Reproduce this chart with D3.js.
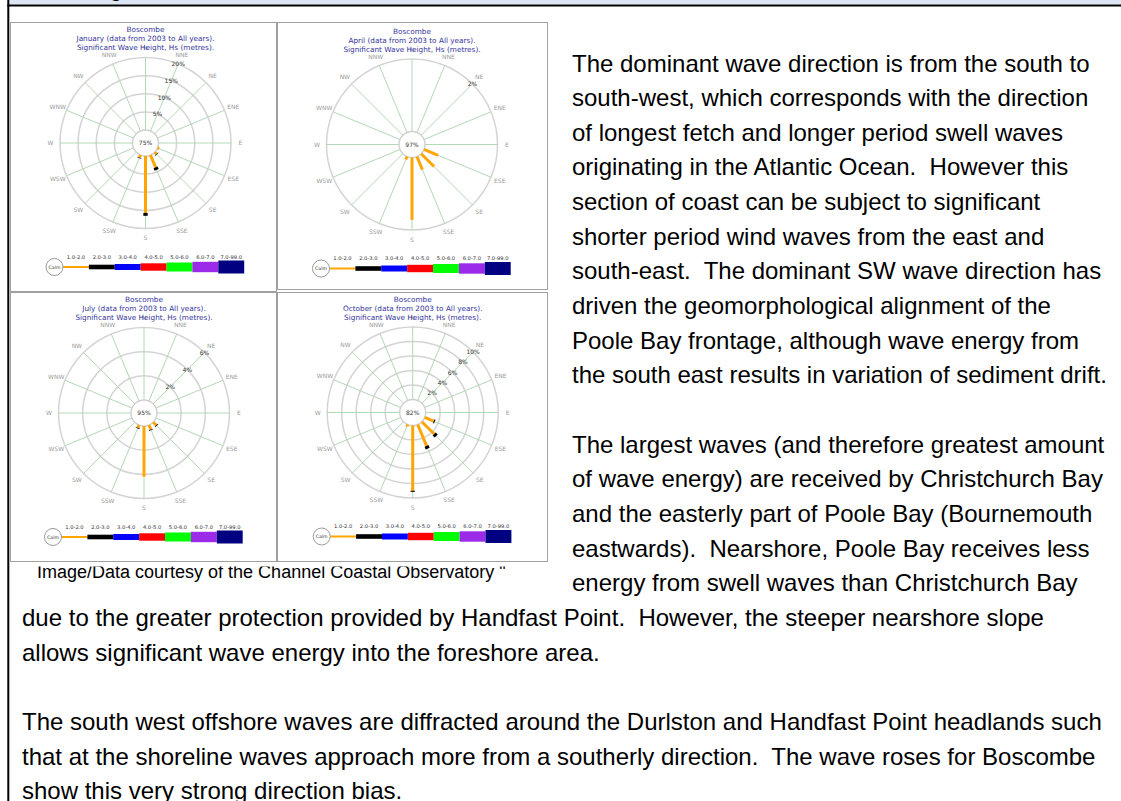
<!DOCTYPE html>
<html>
<head>
<meta charset="utf-8">
<script src="https://cdn.jsdelivr.net/npm/d3@7"></script>
<style>
  body { margin: 0; background: #fff; }
  svg { display: block; }
</style>
</head>
<body>
<svg id="page" width="1121" height="801"></svg>
<script>
// compass points, clockwise from north
const directions = ["N", "NNE", "NE", "ENE", "E", "ESE", "SE", "SSE", "S", "SSW", "SW", "WSW", "W", "WNW", "NW", "NNW"];

// wave height bands (metres)
const bandLabels = ["1.0-2.0", "2.0-3.0", "3.0-4.0", "4.0-5.0", "5.0-6.0", "6.0-7.0", "7.0-99.0"];
const bandColors = ["#ffa500", "#000000", "#0000ff", "#ff0000", "#00ff00", "#9b2be8", "#000080"];

const months = ["January", "April", "July", "October"];
const calmLabels = ["75%", "97%", "95%", "82%"];
const ringTicks = [[5, 10, 15, 20], [2], [2, 4, 6], [2, 4, 6, 8, 10]];
const ringLabelDir = ["NNE", "NE", "NE", "NE"];

// % of records per direction, [1-2m, 2-3m]
const janBars = [
  { dir: "ESE", v: [0.5, 0] },
  { dir: "SE", v: [0.7, 0.15] },
  { dir: "SSE", v: [3.7, 0.75] },
  { dir: "S", v: [15.7, 0.8] },
  { dir: "SSW", v: [0.8, 0.15] }
];
const aprBars = [
  { dir: "ESE", v: [0.42, 0] },
  { dir: "SE", v: [0.5, 0] },
  { dir: "SSE", v: [0.39, 0] },
  { dir: "S", v: [1.72, 0] },
  { dir: "SSW", v: [0.09, 0] }
];
const julBars = [
  { dir: "SE", v: [0.36, 0.06] },
  { dir: "SSE", v: [0.4, 0.06] },
  { dir: "S", v: [4.2, 0] },
  { dir: "SSW", v: [0.25, 0.05] }
];
const octBars = [
  { dir: "ESE", v: [1.35, 0.15] },
  { dir: "SE", v: [2.4, 0.4] },
  { dir: "SSE", v: [3.2, 0.4] },
  { dir: "S", v: [9.0, 0.15] },
  { dir: "SSW", v: [0.3, 0] }
];
const monthBars = [janBars, aprBars, julBars, octBars];

const rightLines = [
  "The dominant wave direction is from the south to",
  "south-west, which corresponds with the direction",
  "of longest fetch and longer period swell waves",
  "originating in the Atlantic Ocean.  However this",
  "section of coast can be subject to significant",
  "shorter period wind waves from the east and",
  "south-east.  The dominant SW wave direction has",
  "driven the geomorphological alignment of the",
  "Poole Bay frontage, although wave energy from",
  "the south east results in variation of sediment drift.",
  "",
  "The largest waves (and therefore greatest amount",
  "of wave energy) are received by Christchurch Bay",
  "and the easterly part of Poole Bay (Bournemouth",
  "eastwards).  Nearshore, Poole Bay receives less",
  "energy from swell waves than Christchurch Bay"
];
const fullLines = [
  "due to the greater protection provided by Handfast Point.  However, the steeper nearshore slope",
  "allows significant wave energy into the foreshore area.",
  "",
  "The south west offshore waves are diffracted around the Durlston and Handfast Point headlands such",
  "that at the shoreline waves approach more from a southerly direction.  The wave roses for Boscombe",
  "show this very strong direction bias."
];
const caption = "Image/Data courtesy of the Channel Coastal Observatory \"";

const svg = d3.select("#page");
const bodyFont = "'Liberation Sans', Arial, sans-serif";
const chartFont = "'DejaVu Sans', Verdana, sans-serif";

// page frame
svg.append("rect").attr("x", 9).attr("y", 0).attr("width", 1112).attr("height", 4.5).attr("fill", "#dce6f4");
svg.append("text").attr("x", 110).attr("y", -3).attr("font-family", bodyFont).attr("font-size", 20)
  .attr("font-weight", "bold").attr("fill", "#000").text("g");
svg.append("rect").attr("x", 7.3).attr("y", 4.5).attr("width", 1113.7).attr("height", 2).attr("fill", "#000");
svg.append("rect").attr("x", 7.3).attr("y", 0).attr("width", 2).attr("height", 801).attr("fill", "#000");

// body text
const lineH = 34.65, firstBase = 71.5;
svg.append("g").selectAll("text").data(rightLines).join("text")
  .attr("x", 572).attr("y", (d, i) => firstBase + i * lineH)
  .attr("font-family", bodyFont).attr("font-size", 24).attr("fill", "#000")
  .style("white-space", "pre").text(d => d);
svg.append("g").selectAll("text").data(fullLines).join("text")
  .attr("x", 22).attr("y", (d, i) => firstBase + (i + rightLines.length) * lineH)
  .attr("font-family", bodyFont).attr("font-size", 24).attr("fill", "#000")
  .style("white-space", "pre").text(d => d);

svg.append("text").attr("x", 37).attr("y", 577.5).attr("font-family", bodyFont)
  .attr("font-size", 18).attr("fill", "#000").text(caption);
// image container hides top of caption
svg.append("rect").attr("x", 10).attr("y", 8).attr("width", 548).attr("height", 558.5).attr("fill", "#fff");

const panels = [
  { x: 10, y: 22, w: 267, h: 270, cx: 145.5, cy: 143 },
  { x: 277, y: 22, w: 271, h: 268, cx: 412, cy: 144.5 },
  { x: 10, y: 292, w: 267, h: 270, cx: 144, cy: 413 },
  { x: 277, y: 292, w: 271, h: 270, cx: 412.7, cy: 412.5 }
];

const calmR = 13, outerR = 85.5, labelR = 95;
const bandWidths = [3, 4.3, 6, 7.5, 9, 10.5, 13];
const legendH = [2, 4.6, 6, 7.4, 9, 10.4, 13];
const rad = d => directions.indexOf(d) * Math.PI / 8;
const px = (r, a) => r * Math.sin(a);
const py = (r, a) => -r * Math.cos(a);

panels.forEach((p, k) => {
  svg.append("rect").attr("x", p.x + 0.5).attr("y", p.y + 0.5).attr("width", p.w - 1).attr("height", p.h - 1)
    .attr("fill", "#fff").attr("stroke", "#a0a0a0").attr("stroke-width", 1);

  const g = svg.append("g").attr("transform", `translate(${p.cx},${p.cy})`);
  const ticks = ringTicks[k];
  const r = d3.scaleLinear().domain([0, d3.max(ticks)]).range([calmR, outerR]);

  // rings
  g.selectAll("circle.ring").data(ticks).join("circle").attr("class", "ring")
    .attr("r", d => r(d)).attr("fill", "none").attr("stroke", "#d4d4d4").attr("stroke-width", 1.5);

  // spokes
  g.selectAll("line.spoke").data(directions).join("line").attr("class", "spoke")
    .attr("x1", d => px(calmR, rad(d))).attr("y1", d => py(calmR, rad(d)))
    .attr("x2", d => px(outerR, rad(d))).attr("y2", d => py(outerR, rad(d)))
    .attr("stroke", "#b4d8b4").attr("stroke-width", 1);

  g.append("circle").attr("r", calmR).attr("fill", "#fff").attr("stroke", "#d0d0d0").attr("stroke-width", 1.4);

  // stacked bars
  const segs = [];
  monthBars[k].forEach(b => {
    let acc = 0;
    b.v.forEach((v, j) => {
      if (v > 0) segs.push({ dir: b.dir, from: acc, to: acc + v, band: j });
      acc += v;
    });
  });
  g.selectAll("line.bar").data(segs).join("line").attr("class", "bar")
    .attr("x1", d => px(r(d.from), rad(d.dir))).attr("y1", d => py(r(d.from), rad(d.dir)))
    .attr("x2", d => px(r(d.to), rad(d.dir))).attr("y2", d => py(r(d.to), rad(d.dir)))
    .attr("stroke", d => bandColors[d.band]).attr("stroke-width", d => bandWidths[d.band]);

  // ring labels
  const la = rad(ringLabelDir[k]);
  g.selectAll("text.rl").data(ticks).join("text").attr("class", "rl")
    .attr("x", d => px(r(d), la)).attr("y", d => py(r(d), la) + 2.1)
    .attr("text-anchor", "middle").attr("font-family", chartFont).attr("font-size", 6)
    .attr("fill", "#333").text(d => d + "%");

  g.append("text").attr("y", 2.1).attr("text-anchor", "middle").attr("font-family", chartFont)
    .attr("font-size", 6).attr("fill", "#333").text(calmLabels[k]);

  // compass labels
  g.selectAll("text.dl").data(directions).join("text").attr("class", "dl")
    .attr("x", d => px(labelR, rad(d))).attr("y", d => py(labelR, rad(d)) + 2.1)
    .attr("text-anchor", "middle").attr("font-family", chartFont).attr("font-size", 6)
    .attr("fill", "#9a9a9a").text(d => d);

  // title
  const title = ["Boscombe", `${months[k]} (data from 2003 to All years).`, "Significant Wave Height, Hs (metres)."];
  g.selectAll("text.tt").data(title).join("text").attr("class", "tt")
    .attr("y", (d, i) => [-113.5, -104.3, -95.2][i] + 2.6)
    .attr("text-anchor", "middle").attr("font-family", chartFont).attr("font-size", 7.3)
    .attr("fill", "#35359c").text(d => d);

  // legend
  const lg = g.append("g").attr("transform", "translate(0,124)");
  const lx = d3.scaleBand().domain(bandLabels).range([-82.5, 98.7]);
  lg.selectAll("rect").data(bandLabels).join("rect")
    .attr("x", d => lx(d)).attr("width", lx.bandwidth())
    .attr("y", (d, i) => -legendH[i] / 2).attr("height", (d, i) => legendH[i])
    .attr("fill", (d, i) => bandColors[i]);
  lg.selectAll("text").data(bandLabels).join("text")
    .attr("x", d => lx(d) + lx.bandwidth() / 2).attr("y", -8.5)
    .attr("text-anchor", "middle").attr("font-family", chartFont).attr("font-size", 5.2)
    .attr("fill", "#333").text(d => d);
  lg.append("circle").attr("cx", -91).attr("r", 8.5).attr("fill", "#fff").attr("stroke", "#999").attr("stroke-width", 1);
  lg.append("text").attr("x", -91).attr("y", 1.6).attr("text-anchor", "middle").attr("font-family", chartFont)
    .attr("font-size", 4.6).attr("fill", "#333").text("Calm");
});
</script>
</body>
</html>
